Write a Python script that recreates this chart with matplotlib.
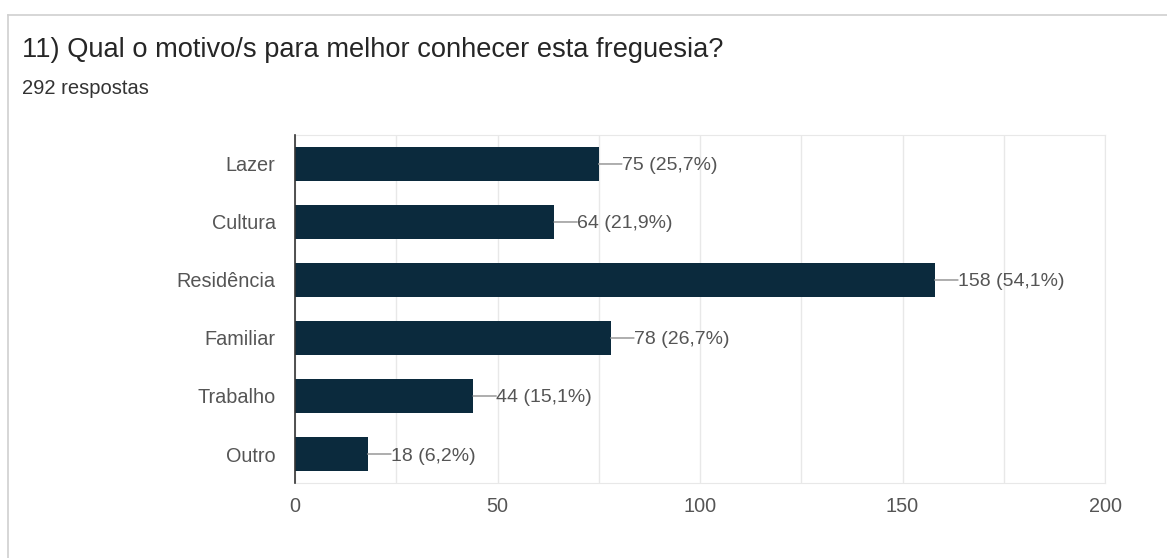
import matplotlib.pyplot as plt
from matplotlib.lines import Line2D

plt.rcParams['font.family'] = ['Liberation Sans', 'DejaVu Sans']

categories = ["Lazer", "Cultura", "Residência", "Familiar", "Trabalho", "Outro"]
counts = [75, 64, 158, 78, 44, 18]
percents = ["25,7", "21,9", "54,1", "26,7", "15,1", "6,2"]
title = "11) Qual o motivo/s para melhor conhecer esta freguesia?"
subtitle = "292 respostas"

bar_color = "#0b2a3d"
text_color = "#555555"

fig = plt.figure(figsize=(11.67, 5.58), dpi=100)
ax = fig.add_axes([0.2528, 0.1344, 0.6941, 0.6237])

ypos = list(range(len(categories)))
ax.barh(ypos, counts, height=0.6, color=bar_color, zorder=3)
for y, v, p in zip(ypos, counts, percents):
    # connector from bar end to label
    ax.annotate("", (v, y), xytext=(16.5, 0), textcoords="offset points",
                arrowprops=dict(arrowstyle="-", color="#a0a0a0", lw=1.2,
                                shrinkA=0, shrinkB=0))
    ax.annotate(f"{v} ({p}%)", (v, y), xytext=(16.5, 0), textcoords="offset points",
                ha="left", va="center_baseline", fontsize=14, color=text_color)

ax.set_ylim(len(categories) - 0.5, -0.5)
ax.set_xlim(0, 200)
ax.set_yticks(ypos)
ax.set_yticklabels(categories, va="center_baseline")
ax.set_xticks([0, 50, 100, 150, 200])
ax.set_xticks(range(0, 201, 25), minor=True)
ax.tick_params(axis="both", which="both", length=0, labelsize=14.3, labelcolor=text_color)
ax.tick_params(axis="y", pad=14)
ax.tick_params(axis="x", pad=10)
ax.grid(axis="x", which="both", color="#e8e8e8", lw=1, zorder=0)

for s in ["top", "right", "bottom"]:
    ax.spines[s].set_color("#e8e8e8")
ax.spines["left"].set_color("#333333")
ax.spines["left"].set_linewidth(1.2)
ax.spines["left"].set_zorder(4)

fig.text(0.0189, 0.910, title, fontsize=19.6, color="#262626", va="center")
fig.text(0.0189, 0.842, subtitle, fontsize=14.5, color="#333333", va="center")

# card border
fig.add_artist(Line2D([0.0069, 1.0], [0.973, 0.973], color="#d0d0d0", lw=1.2))
fig.add_artist(Line2D([0.0069, 0.0069], [0.0, 0.973], color="#d0d0d0", lw=1.2))

fig.savefig("out.png", dpi=100, facecolor="white")
